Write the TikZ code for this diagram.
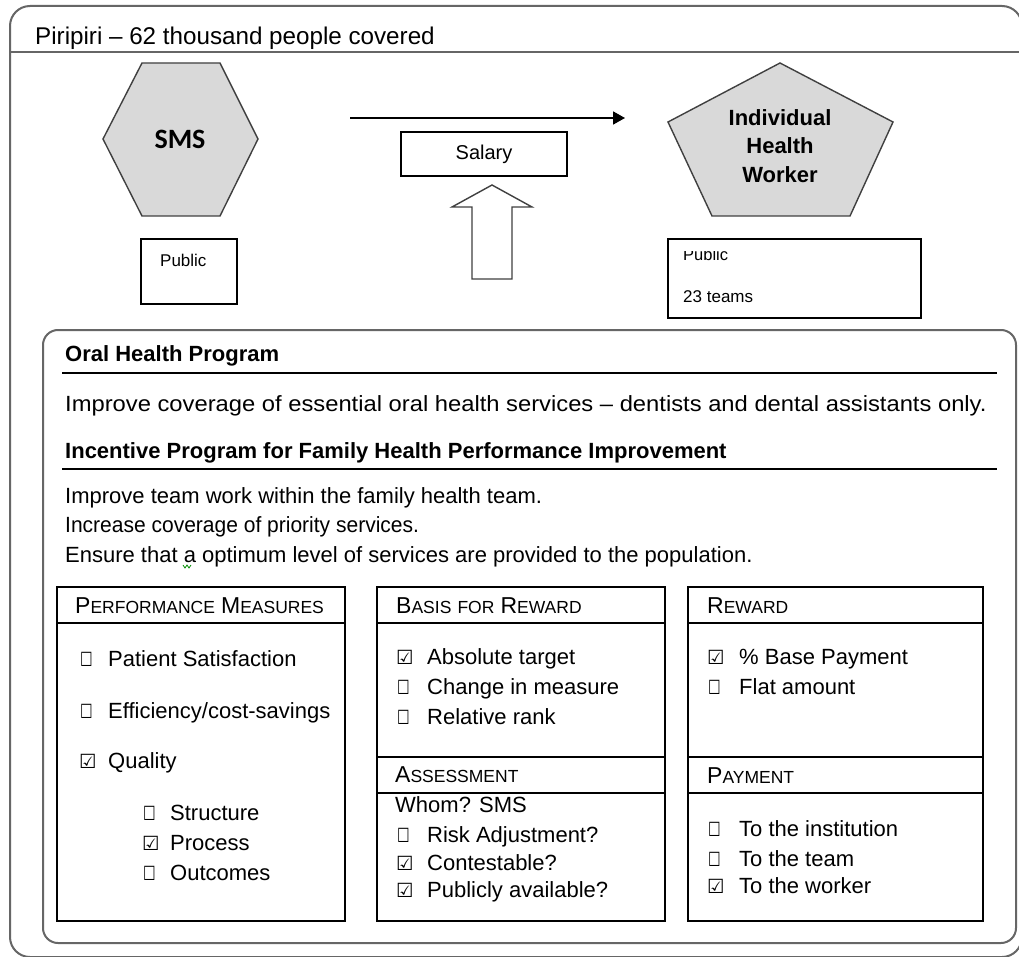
\documentclass[tikz,border=0pt]{standalone}
\usepackage{fontspec}
\setmainfont{Liberation Sans}
\newfontfamily\carlito{Carlito}
\newfontfamily\dejavu{DejaVu Sans}
\usetikzlibrary{arrows.meta}
\newcommand{\fs}[1]{\fontsize{#1}{#1}\selectfont}
\newcommand{\hsc}[2]{{\fs{23}#1}{\fs{17.5}#2}}
\newcommand{\cbE}{{\dejavu\fs{19.5}\scalebox{0.72}[1]{☐}}}
\newcommand{\cbC}{{\dejavu\fs{19.5}☑}}
\newcommand{\citem}[6]{\node[txt] (#1b) at (#2,#4) {#5}; \node[txt] (#1) at (#3,#4) {#6};}
\begin{document}
\begin{tikzpicture}[x=1pt,y=-1pt,
  txt/.style={inner sep=0pt, anchor=base west, font=\fs{22}},
  frameline/.style={draw=black!60, line width=2},
  boxline/.style={draw=black, line width=1.4},
  shapefill/.style={fill=black!15, draw=black!75, line width=1.4},
  sepline/.style={draw=black, line width=1.4}
]
\useasboundingbox (0,0) rectangle (1019,957);
\fill[white] (0,0) rectangle (1019,957);

% outer frame
\draw[frameline, rounded corners=20] (10,6) rectangle (1022,957);
\draw[frameline] (10,52) -- (1022,52);
\node[txt, font=\fs{24.2}] (title) at (35,45) {Piripiri – 62 thousand people covered};

% SMS hexagon
\draw[shapefill] (142,63) -- (220,63) -- (258,139) -- (220,216) -- (142,216) -- (103,139) -- cycle;
\node[font=\carlito\bfseries\fs{28}, inner sep=0pt] (sms) at (180,139) {SMS};

% public box left
\draw[boxline] (141,239) rectangle (237,304);
\node[txt, font=\fs{17}] (pubL) at (160,267) {Public};

% arrow and salary
\coordinate (arrS) at (350,118);
\coordinate (arrE) at (625,118);
\draw[line width=1.8, -{Triangle[length=12,width=13]}] (arrS) -- (arrE);
\node[draw, line width=1.3, minimum width=166, minimum height=44, inner sep=0pt, font=\fs{20}] (salary) at (484,154) {Salary};
\draw[fill=white, draw=black!75, line width=1.4] (492,185) -- (532,207) -- (512,207) -- (512,279) -- (472,279) -- (472,207) -- (452,207) -- cycle;

% pentagon
\draw[shapefill] (780,63) -- (893,122) -- (850,216) -- (712,216) -- (668,122) -- cycle;
\node[font=\bfseries\fontsize{22}{28.5}\selectfont, align=center, inner sep=0pt] (ihw) at (780,146) {Individual\\Health\\Worker};

% public box right
\draw[boxline] (668,239) rectangle (921,318);
\begin{scope}
\clip (668,252) rectangle (921,318);
\node[txt, font=\fs{16.5}] (pubR) at (683,261) {Public};
\end{scope}
\node[txt, font=\fs{17}] (teams) at (683,302) {23 teams};

% inner frame
\draw[frameline, rounded corners=15] (43,330) rectangle (1016,943);
\node[txt, font=\bfseries\fs{22}] (oral) at (65,361) {Oral Health Program};
\draw[sepline] (62,373) -- (997,373);
\node[txt] (oraltxt) at (65,411) {\scalebox{1.08}[1]{Improve coverage of essential oral health services – dentists and dental assistants only.}};
\node[txt, font=\bfseries\fs{22}] (incent) at (65,458) {Incentive Program for Family Health Performance Improvement};
\draw[sepline] (62,469) -- (997,469);
\node[txt] (g1) at (65,503) {Improve team work within the family health team.};
\node[txt] (g2) at (65,532) {\scalebox{0.955}[1]{Increase coverage of priority services.}};
\node[txt] (g3) at (65,562) {Ensure that a optimum level of services are provided to the population.};
\draw[green!55!black, line width=0.8] (183,565) -- (185,568) -- (187,565) -- (189,568) -- (191,565);

% box 1 performance measures
\draw[boxline] (57,587) rectangle (345,921);
\draw[boxline] (57,623) -- (345,623);
\node[txt] (h1) at (75,613) {\hsc{P}{ERFORMANCE} \hsc{M}{EASURES}};
\citem{pm1}{80}{108}{666}{\cbE}{Patient Satisfaction}
\citem{pm2}{80}{108}{718}{\cbE}{Efficiency/cost-savings}
\citem{pm3}{79}{108}{768}{\cbC}{Quality}
\citem{pm4}{143}{170}{820}{\cbE}{Structure}
\citem{pm5}{142}{170}{850}{\cbC}{Process}
\citem{pm6}{143}{170}{880}{\cbE}{Outcomes}

% box 2 basis / assessment
\draw[boxline] (377,587) rectangle (665,921);
\draw[boxline] (377,623) -- (665,623);
\draw[boxline] (377,757) -- (665,757);
\draw[boxline] (377,793) -- (665,793);
\node[txt] (h2) at (396,613) {\hsc{B}{ASIS} {\fs{17.5}FOR} \hsc{R}{EWARD}};
\citem{br1}{396}{427}{664}{\cbC}{Absolute target}
\citem{br2}{397}{427}{694}{\cbE}{Change in measure}
\citem{br3}{397}{427}{724}{\cbE}{Relative rank}
\node[txt] (h3) at (395,782) {\hsc{A}{SSESSMENT}};
\node[txt] (whom) at (395,812) {Whom? SMS};
\citem{as1}{397}{427}{842}{\cbE}{Risk Adjustment?}
\citem{as2}{396}{427}{870}{\cbC}{Contestable?}
\citem{as3}{396}{427}{897}{\cbC}{Publicly available?}

% box 3 reward / payment
\draw[boxline] (688,587) rectangle (983,921);
\draw[boxline] (688,623) -- (983,623);
\draw[boxline] (688,757) -- (983,757);
\draw[boxline] (688,793) -- (983,793);
\node[txt] (h4) at (707,613) {\hsc{R}{EWARD}};
\citem{rw1}{707}{739}{664}{\cbC}{\% Base Payment}
\citem{rw2}{708}{739}{694}{\cbE}{Flat amount}
\node[txt] (h5) at (707,783) {\hsc{P}{AYMENT}};
\citem{pa1}{708}{739}{836}{\cbE}{To the institution}
\citem{pa2}{708}{739}{866}{\cbE}{To the team}
\citem{pa3}{707}{739}{893}{\cbC}{To the worker}
\end{tikzpicture}
\end{document}
